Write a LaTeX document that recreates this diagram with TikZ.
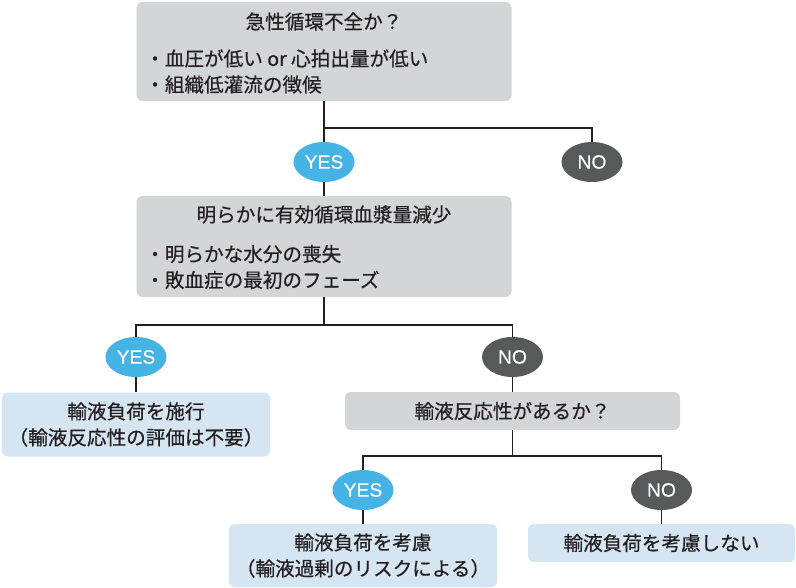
\documentclass[tikz,border=0pt]{standalone}
\usepackage{fontspec}
\setmainfont{Noto Sans CJK JP}[FakeBold=0.5]
\newfontfamily\latinfont{Liberation Sans}[FakeBold=0.3]
\usetikzlibrary{shapes.geometric}
\definecolor{boxgray}{RGB}{212,213,215}
\definecolor{boxblue}{RGB}{214,229,242}
\definecolor{yesblue}{RGB}{69,179,228}
\definecolor{nogray}{RGB}{88,89,91}
\definecolor{textc}{RGB}{35,31,32}
\newlength\pxl
\setlength\pxl{0.75pt}
\tikzset{
  graybox/.style={fill=boxgray, rounded corners=6\pxl, inner sep=0pt, text=textc,
    align=center, font=\fontsize{14.7}{19.5}\selectfont},
  bluebox/.style={graybox, fill=boxblue},
  headtext/.style={inner sep=0pt, text=textc, font=\fontsize{14.7}{19.5}\selectfont},
  listtext/.style={headtext, align=left, anchor=west},
  yesnode/.style={ellipse, fill=yesblue, inner sep=0pt, minimum width=61\pxl,
    minimum height=40\pxl, text=white, font=\latinfont\fontsize{14.5}{16}\selectfont},
  nonode/.style={yesnode, fill=nogray},
  link/.style={draw=textc, line width=1pt}
}
\begin{document}
\begin{tikzpicture}[x=0.75pt, y=-0.75pt]
  \useasboundingbox (0,0) rectangle (796,588);
  %
  % first question
  \node[graybox, minimum width=375\pxl, minimum height=99\pxl] (box1) at (324,51.5) {};
  \node[headtext] (head1) at (324,21.5) {急性循環不全か？};
  \node[listtext] (list1) at (145,71.5) {・血圧が低い or 心拍出量が低い\\・組織低灌流の徴候};
  %
  \node[yesnode] (yes1) at (324,162) {YES};
  \node[nonode] (no1) at (592,162) {NO};
  \coordinate (fork1) at (324,128);
  \draw[link] (box1.south) -- (fork1) -| (no1.north);
  \draw[link] (fork1) -- (yes1.north);
  %
  % second question
  \node[graybox, minimum width=375\pxl, minimum height=101\pxl] (box2) at (324,246.5) {};
  \node[headtext] (head2) at (324,214.5) {明らかに有効循環血漿量減少};
  \node[listtext] (list2) at (145,267) {・明らかな水分の喪失\\・敗血症の最初のフェーズ};
  \draw[link] (yes1.south) -- (box2.north);
  %
  \node[yesnode] (yes2) at (136,357) {YES};
  \node[nonode] (no2) at (512.5,357) {NO};
  \coordinate (fork2) at (324,325);
  \draw[link] (box2.south) -- (fork2) -| (yes2.north);
  \draw[link] (fork2) -| (no2.north);
  %
  \node[bluebox, minimum width=268\pxl, minimum height=64\pxl] (box3) at (136,424.5)
    {輸液負荷を施行\\（輸液反応性の評価は不要）};
  \draw[link] (yes2.south) -- (box3.north);
  %
  % third question
  \node[graybox, minimum width=335\pxl, minimum height=38\pxl] (box4) at (512.5,411)
    {輸液反応性があるか？};
  \draw[link] (no2.south) -- (box4.north);
  %
  \node[yesnode] (yes3) at (363,490) {YES};
  \node[nonode] (no3) at (661.5,490) {NO};
  \coordinate (fork3) at (512.5,456);
  \draw[link] (box4.south) -- (fork3) -| (yes3.north);
  \draw[link] (fork3) -| (no3.north);
  %
  \node[bluebox, minimum width=268\pxl, minimum height=63\pxl] (box5) at (363,555.5)
    {輸液負荷を考慮\\（輸液過剰のリスクによる）};
  \node[bluebox, minimum width=267\pxl, minimum height=38\pxl] (box6) at (661.5,543)
    {輸液負荷を考慮しない};
  \draw[link] (yes3.south) -- (box5.north);
  \draw[link] (no3.south) -- (box6.north);
\end{tikzpicture}
\end{document}
